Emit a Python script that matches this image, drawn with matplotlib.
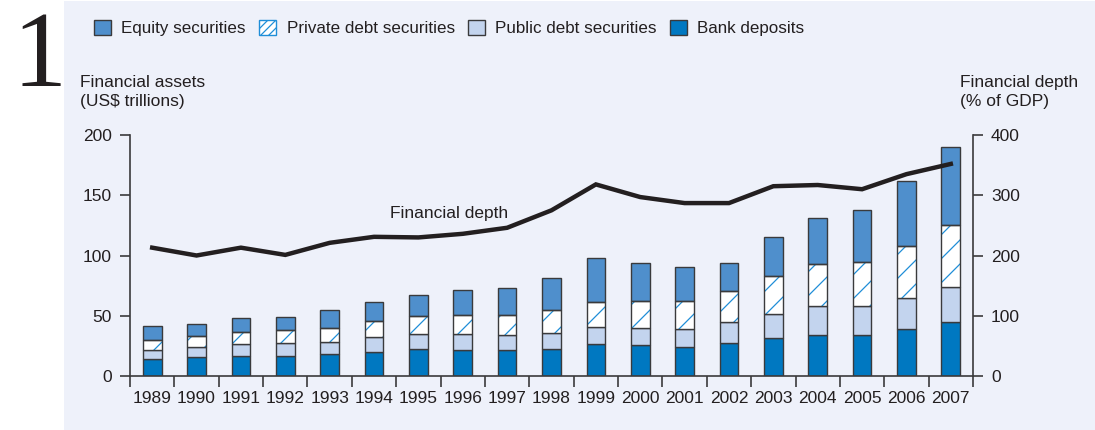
import numpy as np
import matplotlib
matplotlib.use('Agg')
import matplotlib.pyplot as plt
from matplotlib.patches import Patch, Rectangle

years = list(range(1989, 2008))

# cumulative tops (US$ trillions)
bank_top = [14, 16, 17, 17, 18, 20, 22, 21.5, 21.5, 22, 26.2, 25.4, 24.3, 27, 31.5, 34, 34, 38.7, 44.5]
public_top = [21.5, 24, 26.5, 27, 28.5, 32, 35, 35, 34, 36, 40.8, 40, 38.6, 44.4, 51.7, 57.8, 57.8, 64.7, 73.6]
private_top = [29.8, 33.5, 36.5, 38, 40, 46, 49.5, 51, 50.5, 54.6, 61.5, 62, 62, 70.3, 82.7, 93, 94.9, 108, 125.3]
total_top = [41.4, 43, 48, 49, 54.5, 61, 67, 71.2, 73, 81.4, 98, 94, 90.8, 94, 115, 131.4, 138, 161.5, 189.8]

bank = np.array(bank_top)
public = np.array(public_top) - np.array(bank_top)
private = np.array(private_top) - np.array(public_top)
equity = np.array(total_top) - np.array(private_top)

# financial depth, % of GDP
depth = [213, 200, 213, 201, 221, 231, 230, 236, 246, 275, 318, 297, 287, 287, 315, 317, 310, 335, 352]

c_equity = '#4f8fcc'
c_public = '#c3d4ee'
c_bank = '#0078c1'
c_hatch = '#1f8ed8'
c_edge = '#3a3a3c'
c_text = '#231f20'
c_bg = '#eef1fa'

# drawn at 72 dpi so that the '/' hatch has the sparse spacing of the original;
# S converts sizes that were tuned at 100 dpi
DPI = 72
S = 100 / DPI

plt.rcParams['font.family'] = ['Liberation Sans Narrow', 'Liberation Sans', 'DejaVu Sans']
plt.rcParams['hatch.linewidth'] = 0.9 * S
plt.rcParams['text.color'] = c_text

fig = plt.figure(figsize=(1095 / DPI, 430 / DPI), dpi=DPI)
fig.patches.append(Rectangle((64 / 1095, 0), 1, 1 - 1 / 430, transform=fig.transFigure,
                             facecolor=c_bg, edgecolor='none', zorder=-10))

ax = fig.add_axes([130 / 1095, 1 - 376 / 430, 843 / 1095, 241 / 430])
ax.set_facecolor('none')
x = np.arange(len(years))
w = 0.42
ec = dict(edgecolor=c_edge, linewidth=1.0 * S)

ax.bar(x, bank, w, color=c_bank, **ec, zorder=2)
ax.bar(x, public, w, bottom=bank, color=c_public, **ec, zorder=2)
ax.bar(x, private, w, bottom=bank + public, color='white', edgecolor=c_hatch,
       linewidth=0, hatch='/', zorder=2)
ax.bar(x, private, w, bottom=bank + public, color='none', **ec, zorder=3)
ax.bar(x, equity, w, bottom=bank + public + private, color=c_equity, **ec, zorder=2)

ax.set_xlim(-0.5, len(years) - 0.5)
ax.set_ylim(0, 200)
ax.set_yticks([0, 50, 100, 150, 200])
ax.set_xticks(np.arange(-0.5, len(years) + 0.5, 1))
ax.set_xticklabels([])
ax.set_xticks(x, minor=True)
ax.set_xticklabels([str(y) for y in years], minor=True)
ax.tick_params(axis='x', which='minor', length=0, pad=11 * S, labelsize=12.5 * S, labelcolor=c_text)
ax.tick_params(axis='x', which='major', length=8 * S, width=1.2 * S, color=c_edge, direction='out')
ax.tick_params(axis='y', length=7 * S, width=1.2 * S, color=c_edge, labelsize=12.5 * S,
               labelcolor=c_text, pad=6 * S)
for s in ['top', 'right']:
    ax.spines[s].set_visible(False)
for s in ['left', 'bottom']:
    ax.spines[s].set_color(c_edge)
    ax.spines[s].set_linewidth(1.2 * S)

ax2 = ax.twinx()
ax2.set_ylim(0, 400)
ax2.set_yticks([0, 100, 200, 300, 400])
ax2.plot(x, depth, color=c_text, linewidth=3.2 * S, solid_joinstyle='miter', zorder=5)
ax2.tick_params(axis='y', length=7 * S, width=1.2 * S, color=c_edge, labelsize=12.5 * S,
                labelcolor=c_text, pad=6 * S)
for s in ['top', 'left', 'bottom']:
    ax2.spines[s].set_visible(False)
ax2.spines['right'].set_color(c_edge)
ax2.spines['right'].set_linewidth(1.2 * S)

ax2.text(5.35, 270, 'Financial depth', fontsize=12.5 * S, ha='left', va='center')

fig.text(80 / 1095, 1 - 92 / 430, 'Financial assets\n(US$ trillions)', fontsize=12.5 * S,
         ha='left', va='center', linespacing=1.3)
fig.text(960 / 1095, 1 - 92 / 430, 'Financial depth\n(% of GDP)', fontsize=12.5 * S,
         ha='left', va='center', linespacing=1.3)
fig.text(13 / 1095, 1 - 86 / 430, '1', fontsize=78 * S, family='Liberation Serif',
         ha='left', va='baseline')

handles = [Patch(facecolor=c_equity, edgecolor=c_edge, linewidth=S),
           Patch(facecolor='white', edgecolor=c_hatch, hatch='///', linewidth=S),
           Patch(facecolor=c_public, edgecolor=c_edge, linewidth=S),
           Patch(facecolor=c_bank, edgecolor=c_edge, linewidth=S)]
labels = ['Equity securities', 'Private debt securities', 'Public debt securities', 'Bank deposits']
fig.legend(handles, labels, loc='center left', bbox_to_anchor=(79 / 1095, 1 - 28 / 430),
           ncol=4, frameon=False, fontsize=12.2 * S, handlelength=1.0, handleheight=1.0,
           handletextpad=0.6, columnspacing=0.8)

fig.savefig('out.png', dpi=DPI)
